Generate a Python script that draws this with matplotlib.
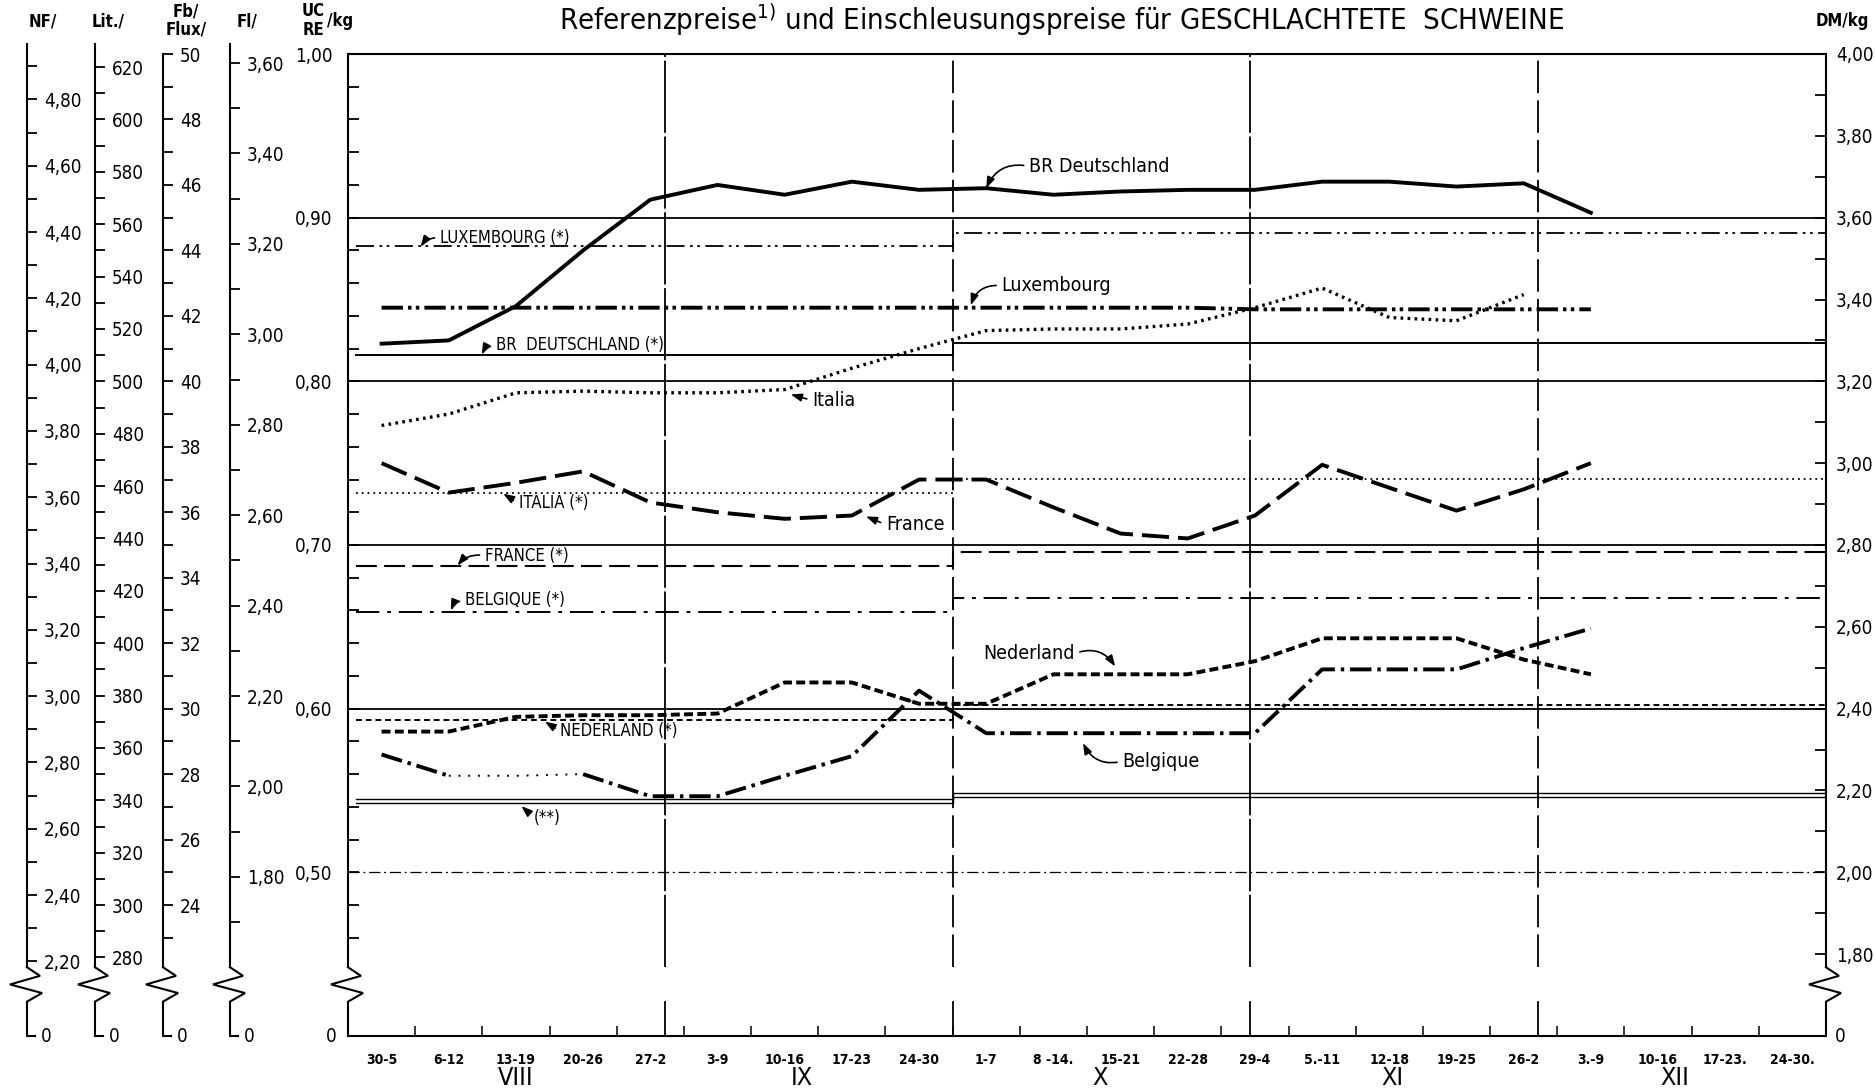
import numpy as np
import matplotlib
matplotlib.use("Agg")
import matplotlib.pyplot as plt

plt.rcParams['font.family'] = ['DejaVu Sans']
plt.rcParams['font.stretch'] = 'condensed'
plt.rcParams['mathtext.fontset'] = 'dejavusans'

# ---------------- data ----------------
week_labels = ["30-5", "6-12", "13-19", "20-26", "27-2", "3-9", "10-16", "17-23",
               "24-30", "1-7", "8 -14.", "15-21", "22-28", "29-4", "5.-11", "12-18",
               "19-25", "26-2", "3.-9", "10-16", "17-23.", "24-30."]
month_labels = ["VIII", "IX", "X", "XI", "XII"]
month_label_x = [2.5, 6.75, 11.2, 15.55, 19.75]
month_bounds = [4.714, 9.0, 13.43, 17.714]

# market prices (UC / kg), one value per week starting with 30-5
brd_market = [0.823, 0.825, 0.846, 0.880, 0.911, 0.920, 0.914, 0.922, 0.917, 0.918,
              0.914, 0.916, 0.917, 0.917, 0.922, 0.922, 0.919, 0.921, 0.903]
lux_market = [0.845, 0.845, 0.845, 0.845, 0.845, 0.845, 0.845, 0.845, 0.845, 0.845,
              0.845, 0.845, 0.845, 0.844, 0.844, 0.844, 0.844, 0.844, 0.844]
ita_market = [0.773, 0.780, 0.793, 0.794, 0.793, 0.793, 0.795, 0.808, 0.820, 0.831,
              0.832, 0.832, 0.835, 0.845, 0.857, 0.839, 0.837, 0.853]
fra_market = [0.750, 0.732, 0.738, 0.745, 0.726, 0.720, 0.716, 0.718, 0.740, 0.740,
              0.723, 0.707, 0.704, 0.718, 0.749, 0.735, 0.721, 0.734, 0.750]
ned_market = [0.586, 0.586, 0.595, 0.596, 0.596, 0.597, 0.616, 0.616, 0.603, 0.603,
              0.621, 0.621, 0.621, 0.629, 0.643, 0.643, 0.643, 0.630, 0.621]
bel_market = [0.572, 0.559, 0.559, 0.560, 0.5465, 0.5465, 0.559, 0.571, 0.611, 0.585,
              0.585, 0.585, 0.585, 0.585, 0.624, 0.624, 0.624, 0.637, 0.649]

# reference prices (*) before / after 1 October, sluice-gate price (**)
ref_x = [0.12, 9.0, 22.0]
lux_ref = [0.8826, 0.8908]
brd_ref = [0.8160, 0.8233]
ita_ref = [0.7318, 0.7404]
fra_ref = [0.6873, 0.6957]
bel_ref = [0.6592, 0.6677]
ned_ref = [0.5931, 0.6020]
sluice_hi = [0.5446, 0.5482]
sluice_lo = [0.5425, 0.5463]

# other currency scales (units per UC)
aux_names = ["NF/", "Lit./", "Fb/\nFlux/", "Fl/"]
aux_rates = [4.93706, 625.0, 50.0, 3.62]
aux_minor_lo = [22, 28, 23, 17]      # in minor-step units
aux_minor_hi = [49, 62, 50, 36]
aux_minor_step = [0.10, 10, 1, 0.10]
aux_label_every = [2, 2, 2, 2]
aux_decimals = [2, 0, 0, 2]
dm_rate = 4.0

# ---------------- layout ----------------
W, H = 1875, 1091
fig = plt.figure(figsize=(W / 100, H / 100), dpi=100)
AX_L, AX_R, AX_T, AX_B = 348, 1826, 54, 1036
Y0, Y1 = 0.40, 1.00
BREAK_HI, BREAK_LO = 0.442, 0.421
aux_x = [27, 95, 163, 230]
TICK_FS = 13.5

def ypx(v):
    return AX_B - (v - Y0) / (Y1 - Y0) * (AX_B - AX_T)

def fmt(v, d):
    return (f"{v:.{d}f}").replace('.', ',')

ax = fig.add_axes([AX_L / W, 1 - AX_B / H, (AX_R - AX_L) / W, (AX_B - AX_T) / H])
ax.set_xlim(0, 22)
ax.set_ylim(Y0, Y1)

# grid lines
for v in [0.9, 0.8, 0.7, 0.6]:
    ax.axhline(v, color='k', lw=1.3, zorder=1)
ax.axhline(0.5, color='k', lw=0.9, ls=(0, (9, 3, 1.5, 3)), zorder=1)

# month separators (broken across axis break)
month_ls = [(0, (40, 2)), (0, (18, 4)), (0, (40, 2)), (0, (18, 4))]
for b, mls in zip(month_bounds, month_ls):
    ax.plot([b, b], [BREAK_HI, Y1], color='k', lw=1.3, ls=mls, zorder=1)
    ax.plot([b, b], [Y0, BREAK_LO], color='k', lw=1.3, zorder=1)

# reference price step lines
def ref_line(vals, **kw):
    ax.step(ref_x, [vals[0], vals[1], vals[1]], where='post', color='k', zorder=2, **kw)

ref_line(lux_ref, lw=1.3, ls=(0, (10, 3, 1.5, 2.5, 1.5, 3)))
ref_line(brd_ref, lw=1.4, ls='-')
ref_line(ita_ref, lw=1.3, ls=(0, (1, 2.2)))
ref_line(fra_ref, lw=1.5, ls=(0, (10, 3.5)))
ref_line(bel_ref, lw=1.4, ls=(0, (12, 4, 2, 4)))
ref_line(ned_ref, lw=1.4, ls=(0, (3, 2)))
ref_line(sluice_hi, lw=1.0, ls='-')
ref_line(sluice_lo, lw=1.0, ls='-')

# market prices
xm = np.arange(len(brd_market)) + 0.5
ax.plot(xm, brd_market, color='k', lw=2.8, zorder=4)
ax.plot(np.arange(len(lux_market)) + 0.5, lux_market, color='k', lw=2.8,
        ls=(0, (5.5, 1.3, 0.9, 1.1, 0.9, 1.3)), zorder=4)
ax.plot(np.arange(len(ita_market)) + 0.5, ita_market, color='k', lw=2.4,
        ls=(0, (0.8, 1.3)), zorder=4)
ax.plot(np.arange(len(fra_market)) + 0.5, fra_market, color='k', lw=2.8,
        ls=(0, (7, 2.3)), zorder=4)
ax.plot(np.arange(len(ned_market)) + 0.5, ned_market, color='k', lw=2.8,
        ls=(0, (2.3, 1.1)), zorder=4)
xb = np.arange(len(bel_market)) + 0.5
bel_ls = (0, (5.5, 1.5, 0.9, 1.5))
ax.plot(xb[:2], bel_market[:2], color='k', lw=2.8, ls=bel_ls, zorder=4)
ax.plot(xb[1:4], bel_market[1:4], color='k', lw=1.4, ls=(0, (1, 4)), zorder=4)
ax.plot(xb[3:], bel_market[3:], color='k', lw=2.8, ls=bel_ls, zorder=4)

# axes styling
for s in ['top', 'bottom', 'left']:
    ax.spines[s].set_linewidth(1.5)
ax.spines['right'].set_visible(False)
ax.spines['left'].set_bounds(BREAK_HI, Y1)

uc_ticks = np.round(np.arange(23, 51) * 0.02, 2)
ax.set_yticks(uc_ticks)
ax.set_yticklabels([fmt(t, 2) if round(t * 100) % 10 == 0 else '' for t in uc_ticks])
ax.tick_params(axis='y', direction='in', length=8, width=1.3, pad=11, labelsize=TICK_FS)

ax.set_xticks(np.arange(22) + 0.5)
ax.set_xticklabels(week_labels, fontsize=10, fontweight='bold')
ax.tick_params(axis='x', which='major', length=0, pad=12)
ax.set_xticks(np.arange(1, 22), minor=True)
ax.tick_params(axis='x', which='minor', direction='in', length=7, width=1.1)

for lab, xpos in zip(month_labels, month_label_x):
    ax.text(xpos, -0.043, lab, transform=ax.get_xaxis_transform(), ha='center',
            va='center', fontsize=18)

# DM/kg right axis
ax2 = ax.twinx()
ax2.set_ylim(Y0 * dm_rate, Y1 * dm_rate)
for s in ['top', 'bottom', 'left']:
    ax2.spines[s].set_visible(False)
ax2.spines['right'].set_linewidth(1.5)
ax2.spines['right'].set_bounds(BREAK_HI * dm_rate, Y1 * dm_rate)
dm_ticks = np.round(np.arange(18, 41) / 10, 1)
ax2.set_yticks(dm_ticks)
ax2.set_yticklabels([fmt(t, 2) if round(t * 10) % 2 == 0 else '' for t in dm_ticks])
ax2.tick_params(axis='y', direction='in', length=8, width=1.3, pad=7, labelsize=TICK_FS)

# annotations
def label(txt, xytext, xy, size, rad, rel=(0, 0.5)):
    ax.annotate(txt, xy=xy, xytext=xytext, ha='left', va='center', fontsize=size,
                zorder=6,
                arrowprops=dict(arrowstyle='-|>,head_length=0.5,head_width=0.18',
                                color='k', lw=1.2, shrinkA=2, shrinkB=0, relpos=rel,
                                mutation_scale=13,
                                connectionstyle=f'arc3,rad={rad}'))

BIG, SMALL = 14, 12
label("BR Deutschland", (10.14, 0.9314), (9.50, 0.9180), BIG, 0.4)
label("LUXEMBOURG (*)", (1.37, 0.8876), (1.08, 0.8822), SMALL, 0.3)
label("Luxembourg", (9.73, 0.8584), (9.27, 0.8465), BIG, 0.4)
label("BR  DEUTSCHLAND (*)", (2.20, 0.8219), (1.99, 0.8163), SMALL, 0.3)
label("Italia", (6.91, 0.7883), (6.59, 0.7920), BIG, 0.0)
label("ITALIA (*)", (2.54, 0.7255), (2.31, 0.7314), SMALL, 0.0)
label("France", (8.01, 0.7124), (7.71, 0.7175), BIG, 0.0)
label("FRANCE (*)", (2.04, 0.6934), (1.63, 0.6875), SMALL, 0.3)
label("BELGIQUE (*)", (1.74, 0.6664), (1.53, 0.6600), SMALL, 0.3)
label("Nederland", (9.45, 0.6336), (11.42, 0.6258), BIG, -0.4, rel=(1, 0.5))
label("NEDERLAND (*)", (3.16, 0.5861), (2.93, 0.5922), SMALL, 0.0)
label("Belgique", (11.53, 0.5679), (10.94, 0.5790), BIG, -0.4)
label("(**)", (2.77, 0.5335), (2.58, 0.5405), SMALL, 0.0)

# auxiliary currency scales
for name, rate, xp, lo, hi, step, every, dec in zip(aux_names, aux_rates, aux_x,
                                                     aux_minor_lo, aux_minor_hi,
                                                     aux_minor_step, aux_label_every,
                                                     aux_decimals):
    a = fig.add_axes([xp / W, 1 - AX_B / H, 1e-4, (AX_B - AX_T) / H])
    a.set_ylim(Y0 * rate, Y1 * rate)
    a.patch.set_visible(False)
    a.xaxis.set_visible(False)
    for s in ['top', 'bottom', 'left']:
        a.spines[s].set_visible(False)
    a.spines['right'].set_linewidth(1.5)
    top = Y1 * rate if name.startswith("Fb") else 1.006 * rate
    a.spines['right'].set_bounds(BREAK_HI * rate, top)
    a.yaxis.tick_right()
    idx = np.arange(lo, hi + 1)
    ticks = np.round(idx * step, 2)
    a.set_yticks(ticks)
    labs = []
    for i, t in zip(idx, ticks):
        labs.append(fmt(t, dec) if i % every == 0 else '')
    a.set_yticklabels(labs)
    a.tick_params(axis='y', direction='out', length=7, width=1.3, pad=5, labelsize=TICK_FS)

# overlay for axis breaks and headers (pixel coordinates)
ov = fig.add_axes([0, 0, 1, 1])
ov.set_xlim(0, W)
ov.set_ylim(H, 0)
ov.axis('off')
ov.patch.set_alpha(0)

def zigzag(xp, foot):
    y0 = ypx(BREAK_HI)
    y1 = ypx(BREAK_LO)
    d = (y1 - y0) / 4
    xs = [xp, xp + 13, xp - 17, xp + 15, xp, xp]
    ys = [y0, y0 + d, y0 + 2 * d, y0 + 3 * d, y1, AX_B]
    if foot:
        xs.append(xp + 8)
        ys.append(AX_B)
    ov.plot(xs, ys, color='k', lw=1.5, solid_joinstyle='miter')

for xp in aux_x:
    zigzag(xp, True)
    ov.text(xp + 14, AX_B, "0", ha='left', va='center', fontsize=TICK_FS)
zigzag(AX_L, False)
zigzag(AX_R, False)
ov.text(AX_L - 11, AX_B, "0", ha='right', va='center', fontsize=TICK_FS)
ov.text(AX_R + 9, AX_B, "0", ha='left', va='center', fontsize=TICK_FS)

# headers
hdr = dict(fontsize=12, fontweight='bold', va='center')
ov.text(43, 21, "NF/", ha='center', **hdr)
ov.text(108, 21, "Lit./", ha='center', **hdr)
ov.text(186, 11, "Fb/", ha='center', **hdr)
ov.text(186, 30, "Flux/", ha='center', **hdr)
ov.text(247, 21, "Fl/", ha='center', **hdr)
ov.text(313, 11, "UC", ha='center', **hdr)
ov.text(313, 30, "RE", ha='center', **hdr)
ov.text(327, 21, "/kg", ha='left', **hdr)
ov.text(1842, 21, "DM/kg", ha='center', **hdr)

ov.text(1062, 20, r"Referenzpreise$^{1)}$ und Einschleusungspreise für GESCHLACHTETE  SCHWEINE",
        ha='center', va='center', fontsize=21)

fig.savefig("out.png", dpi=100, facecolor='white')
